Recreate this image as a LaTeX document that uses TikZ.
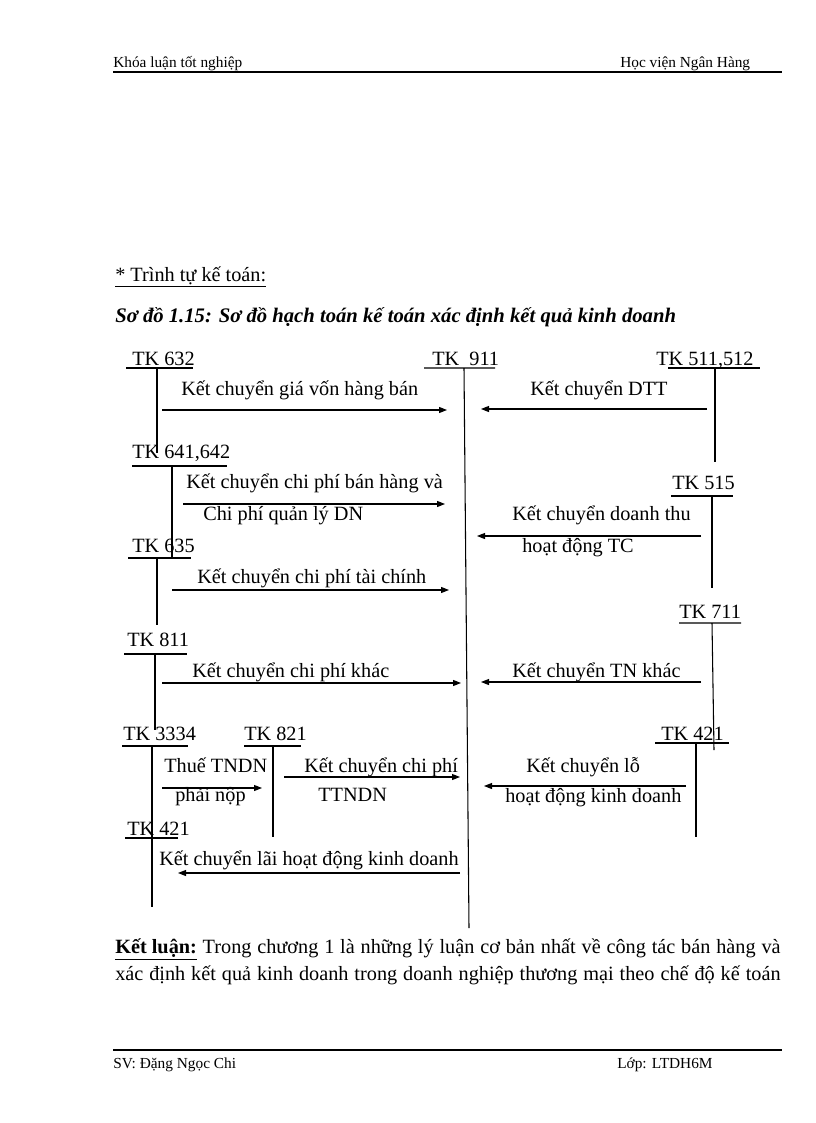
\documentclass[tikz,border=0pt]{standalone}
\usepackage{fontspec}
\setmainfont{Liberation Serif}
\usetikzlibrary{arrows.meta}

\begin{document}
\begin{tikzpicture}[x=0.75pt,y=0.75pt,yscale=-1,xscale=1,
	every node/.style={inner sep=0pt,anchor=base west},
	chu/.style={font=\fontsize{15.2}{18}\selectfont},
	nho/.style={font=\fontsize{11.5}{14}\selectfont},
	tk/.style={line width=0.8pt},
	mui/.style={line width=0.8pt,-{Triangle[length=6pt,width=4.5pt]}},
	ke/.style={line width=2pt}]
		\useasboundingbox (0,0) rectangle (816,1123);
		\fill [white] (0,0) rectangle (816,1123);
		
		% Header
		\node [nho] (dau1) at (113,68) {Khóa luận tốt nghiệp};
		\node [nho] (dau2) at (620,68) {Học viện Ngân Hàng};
		\draw [ke] (113,72) -- (782,72);
		
		% Title
		\node [chu] (muc) at (115,281) {\underline{* Trình tự kế toán:}};
		\node [chu,font=\fontsize{15.5}{18}\selectfont] (tieude) at (115,322) {\textbf{\textit{Sơ đồ 1.15: Sơ đồ hạch toán kế toán xác định kết quả kinh doanh}}};
		
		% Text Node: tai khoan
		\node [chu] (tk632) at (132,365) {TK 632};
		\node [chu] (tk911) at (432,365) {TK\ \ 911};
		\node [chu] (tk511) at (656,365) {TK 511,512};
		\node [chu] (tk641) at (132,458) {TK 641,642};
		\node [chu] (tk515) at (672,489) {TK 515};
		\node [chu] (tk635) at (132,552) {TK 635};
		\node [chu] (tk711) at (679,618) {TK 711};
		\node [chu] (tk811) at (127,646) {TK 811};
		\node [chu] (tk3334) at (123,740) {TK 3334};
		\node [chu] (tk821) at (244,740) {TK 821};
		\node [chu] (tk421b) at (661,740) {TK 421};
		\node [chu] (tk421a) at (127,835) {TK 421};
		
		% Text Node: noi dung
		\node [chu] (kc1) at (181,395) {Kết chuyển giá vốn hàng bán};
		\node [chu] (kc2) at (530,395) {Kết chuyển DTT};
		\node [chu] (kc3) at (186,488) {Kết chuyển chi phí bán hàng và};
		\node [chu] (kc3b) at (203,520) {Chi phí quản lý DN};
		\node [chu] (kc4) at (512,520) {Kết chuyển doanh thu};
		\node [chu] (kc4b) at (522,552) {hoạt động TC};
		\node [chu] (kc5) at (197,583) {Kết chuyển chi phí tài chính};
		\node [chu] (kc6) at (192,677) {Kết chuyển chi phí khác};
		\node [chu] (kc7) at (512,677) {Kết chuyển TN khác};
		\node [chu] (kc8) at (164,772) {Thuế TNDN};
		\node [chu] (kc8b) at (175,801) {phải nộp};
		\node [chu] (kc9) at (304,772) {Kết chuyển chi phí};
		\node [chu] (kc9b) at (318,801) {TTNDN};
		\node [chu] (kc10) at (526,772) {Kết chuyển lỗ};
		\node [chu] (kc10b) at (505,802) {hoạt động kinh doanh};
		\node [chu] (kc11) at (159,865) {Kết chuyển lãi hoạt động kinh doanh};
		
		%Straight Lines: chu T
		\draw [tk] (126,368) -- (193,368) (157,368) -- (157,453);
		\draw [tk] (424,368) -- (495,368) (464,368) -- (469,928);
		\draw [tk] (668,368) -- (760,368) (715,368) -- (715,462);
		\draw [tk] (132,466) -- (227,466) (172,466) -- (172,557);
		\draw [tk] (671,496) -- (733,496) (712,496) -- (712,588);
		\draw [tk] (128,558) -- (191,558) (157,558) -- (157,625);
		\draw [tk] (679,623) -- (741,623) (712,623) -- (714,750);
		\draw [tk] (124,654) -- (187,654) (155,654) -- (155,730);
		\draw [tk] (122,746) -- (188,746) (152,746) -- (152,907);
		\draw [tk] (244,746) -- (301,746) (273,746) -- (273,837);
		\draw [tk] (655,743) -- (729,743) (696,743) -- (696,837);
		\draw [tk] (125,838) -- (178,838);
		
		% Arrows
		\coordinate (a1) at (162,410); \coordinate (b1) at (447,410);
		\coordinate (a2) at (707,409); \coordinate (b2) at (481,409);
		\coordinate (a3) at (183,504); \coordinate (b3) at (445,504);
		\coordinate (a4) at (701,536); \coordinate (b4) at (477,536);
		\coordinate (a5) at (172,590); \coordinate (b5) at (449,590);
		\coordinate (a6) at (162,683); \coordinate (b6) at (461,683);
		\coordinate (a7) at (701,682); \coordinate (b7) at (481,682);
		\coordinate (a8) at (162,788); \coordinate (b8) at (262,788);
		\coordinate (a9) at (284,777); \coordinate (b9) at (460,777);
		\coordinate (a10) at (686,786); \coordinate (b10) at (484,786);
		\coordinate (a11) at (460,873); \coordinate (b11) at (178,873);
		\foreach \i in {1,...,11} {
			\draw [mui] (a\i) -- (b\i);
		}
		
		% Conclusion
		\node [chu] (kl1) at (115,953) {\makebox[499pt][s]{\textbf{\underline{Kết luận:}} Trong chương 1 là những lý luận cơ bản nhất về công tác bán hàng và}};
		\node [chu] (kl2) at (115,980) {\makebox[499pt][s]{xác định kết quả kinh doanh trong doanh nghiệp thương mại theo chế độ kế toán}};
		
		% Footer
		\draw [ke] (113,1050) -- (782,1050);
		\node [nho] (cuoi1) at (113,1068) {SV: Đặng Ngọc Chi};
		\node [nho] (cuoi2) at (617,1068) {Lớp: LTDH6M};
	\end{tikzpicture}
\end{document}
